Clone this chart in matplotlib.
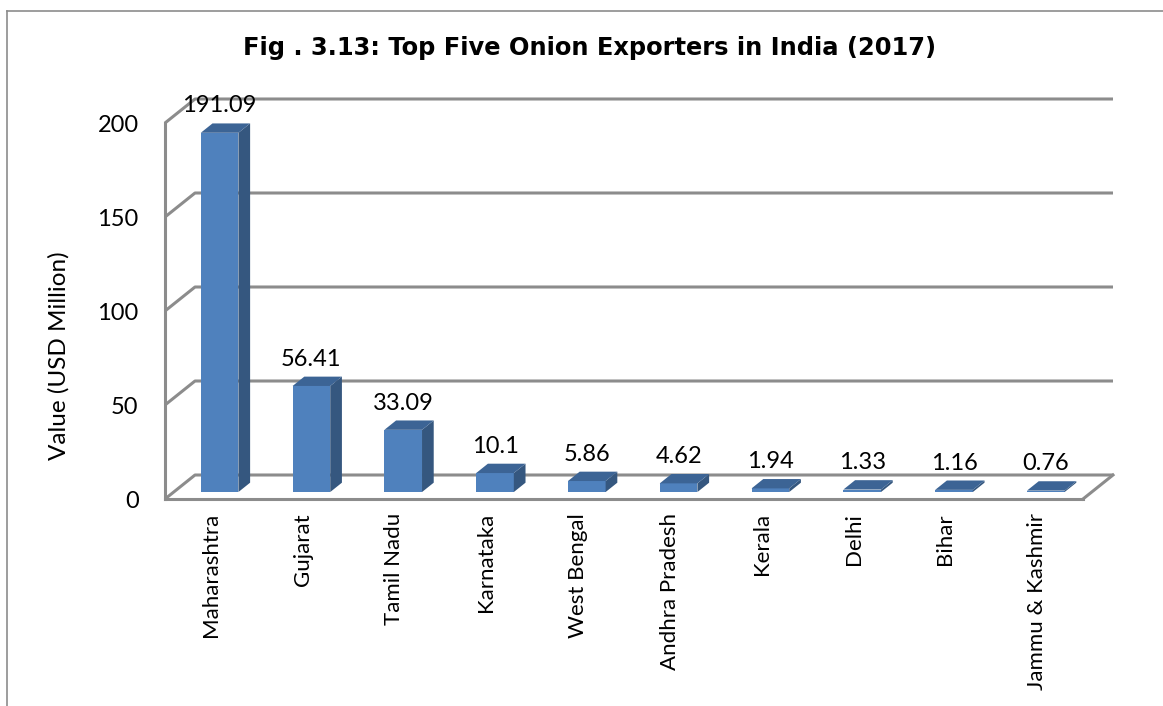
import matplotlib
matplotlib.use("Agg")
import matplotlib.pyplot as plt
from matplotlib.patches import Polygon
from matplotlib.lines import Line2D

plt.rcParams['font.family'] = ['Lato', 'DejaVu Sans']

states = ['Maharashtra', 'Gujarat', 'Tamil Nadu', 'Karnataka', 'West Bengal',
          'Andhra Pradesh', 'Kerala', 'Delhi', 'Bihar', 'Jammu & Kashmir']
values = [191.09, 56.41, 33.09, 10.1, 5.86, 4.62, 1.94, 1.33, 1.16, 0.76]
value_labels = ['191.09', '56.41', '33.09', '10.1', '5.86', '4.62', '1.94', '1.33', '1.16', '0.76']
y_ticks = [0, 50, 100, 150, 200]

title = 'Fig . 3.13: Top Five Onion Exporters in India (2017)'

# colours
front_c = '#4F81BD'
side_c = '#35577F'
top_c = '#3C6495'
grid_c = '#8C8C8C'

fig = plt.figure(figsize=(11.63, 7.06), dpi=100)
ax = fig.add_axes([165 / 1163, 207 / 706, 918 / 1163, 376 / 706])
ax.set_xlim(-0.5, len(states) - 0.5)
ax.set_ylim(0, 200)

# depth of the 3d box in data units
DX = 30 / 91.8
DY = 24 / 1.88
f0, f1 = 0.29, 0.68   # bar front / back depth fraction
bw = 0.41

# walls and floor
x0, x1 = -0.5, len(states) - 0.5
for v in y_ticks:
    ax.add_line(Line2D([x0, x0 + DX, x1 + DX], [v, v + DY, v + DY],
                       color=grid_c, lw=2.2, clip_on=False, zorder=1,
                       solid_capstyle='butt'))
ax.add_line(Line2D([x1, x1 + DX], [0, DY], color=grid_c, lw=2.2,
                   clip_on=False, zorder=1))

# bars with side and top faces
xs = [i + f0 * DX for i in range(len(states))]
base = f0 * DY
ax.bar(xs, values, width=bw, bottom=base, color=front_c, zorder=3)
ddx = (f1 - f0) * DX
ddy = (f1 - f0) * DY
for x, v, lab in zip(xs, values, value_labels):
    xl, xr = x - bw / 2, x + bw / 2
    top = base + v
    ax.add_patch(Polygon([(xr, base), (xr + ddx, base + ddy), (xr + ddx, top + ddy), (xr, top)],
                         closed=True, facecolor=side_c, edgecolor='none', zorder=3, clip_on=False))
    ax.add_patch(Polygon([(xl, top), (xr, top), (xr + ddx, top + ddy), (xl + ddx, top + ddy)],
                         closed=True, facecolor=top_c, edgecolor='none', zorder=3, clip_on=False))
    ax.annotate(lab, (x, top + ddy), xytext=(0, 5), textcoords='offset points',
                ha='center', va='bottom', fontsize=17, zorder=4, annotation_clip=False)

for s in ['top', 'right']:
    ax.spines[s].set_visible(False)
for s in ['left', 'bottom']:
    ax.spines[s].set_color(grid_c)
    ax.spines[s].set_linewidth(2.2)
    ax.spines[s].set_zorder(2)

ax.set_yticks(y_ticks)
ax.set_yticklabels([str(t) for t in y_ticks], fontsize=17)
ax.tick_params(axis='y', length=0, pad=19)
ax.set_xticks(range(len(states)))
ax.set_xticklabels(states, rotation=90, fontsize=16, va='top')
ax.tick_params(axis='x', length=0, pad=10)

ax.set_ylabel('Value (USD Million)', fontsize=17.5)
ax.yaxis.set_label_coords(-0.1155, 0.38)
ax.yaxis.label.set_va('center')

fig.text(590 / 1163, 1 - 48 / 706, title, ha='center', va='center',
         fontsize=17.4, fontweight='bold', family='DejaVu Sans')

# chart border
fig.add_artist(Line2D([7 / 1163, 7 / 1163], [0, 1 - 11 / 706], color=grid_c, lw=1.2))
fig.add_artist(Line2D([7 / 1163, 1], [1 - 11 / 706, 1 - 11 / 706], color=grid_c, lw=1.2))

fig.savefig('out.png', dpi=100)
